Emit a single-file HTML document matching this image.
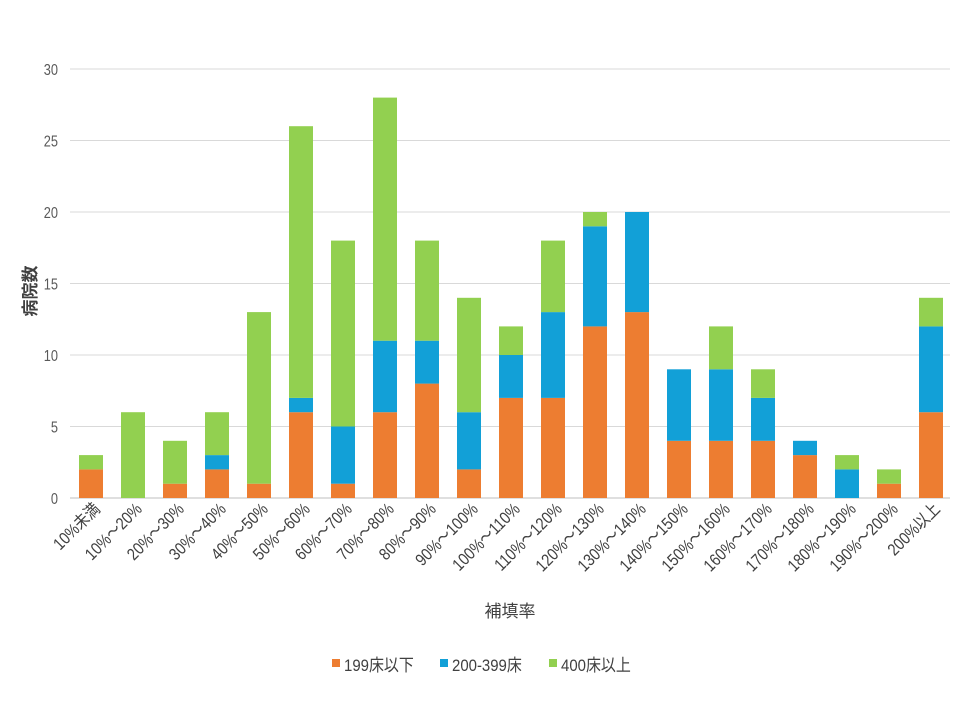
<!DOCTYPE html>
<html><head><meta charset="utf-8"><style>
body{margin:0;background:#fff}
svg text{font-family:"Liberation Sans","Noto Sans CJK JP",sans-serif}
</style></head><body>
<svg id="s" width="960" height="720" xmlns="http://www.w3.org/2000/svg"></svg>
<script>
const s=document.getElementById('s');
const d=[[2,0,1],[0,0,6],[1,0,3],[2,1,3],[1,0,12],[6,1,19],[1,4,13],[6,5,17],[8,3,7],[2,4,8],[7,3,2],[7,6,5],[12,7,1],[13,7,0],[4,5,0],[4,5,3],[4,3,2],[3,1,0],[0,2,1],[1,0,1],[6,6,2]];
const L=["10%未満","10%～20%","20%～30%","30%～40%","40%～50%","50%～60%","60%～70%","70%～80%","80%～90%","90%～100%","100%～110%","110%～120%","120%～130%","130%～140%","140%～150%","150%～160%","160%～170%","170%～180%","180%～190%","190%～200%","200%以上"];
const C=["#ED7D31","#12A0D7","#92D050"];
let h='';
const Y=v=>498-14.3*v;
for(let i=0;i<=6;i++){const y=Y(i*5);h+=`<line x1="70" x2="950" y1="${y}" y2="${y}" stroke="${i?'#d9d9d9':'#bfbfbf'}" stroke-width="1"/><text transform="translate(58,${y+6}) scale(0.8,1)" text-anchor="end" font-size="16" fill="#595959">${i*5}</text>`;}
d.forEach((r,i)=>{const cx=91+42*i;let b=0;r.forEach((v,k)=>{if(v){h+=`<rect x="${cx-12}" y="${Y(b+v)}" width="24" height="${14.3*v}" fill="${C[k]}"/>`;}b+=v;});
h+=`<text transform="translate(${cx+10},510) rotate(-45) scale(0.85,1)" text-anchor="end" font-size="17" fill="#404040">${L[i]}</text>`;});
h+=`<text x="510" y="617" text-anchor="middle" font-size="17" fill="#404040">補填率</text>`;
h+=`<text transform="translate(36,291) rotate(-90)" text-anchor="middle" font-size="17" fill="#404040" font-weight="bold">病院数</text>`;
const lg=[[332,"199床以下"],[440,"200-399床"],[549,"400床以上"]];
lg.forEach((g,k)=>{h+=`<rect x="${g[0]}" y="659" width="8" height="8" fill="${C[k]}"/><text transform="translate(${g[0]+12},671) scale(0.88,1)" font-size="17" fill="#404040">${g[1]}</text>`;});
s.innerHTML=h;
</script>
</body></html>
